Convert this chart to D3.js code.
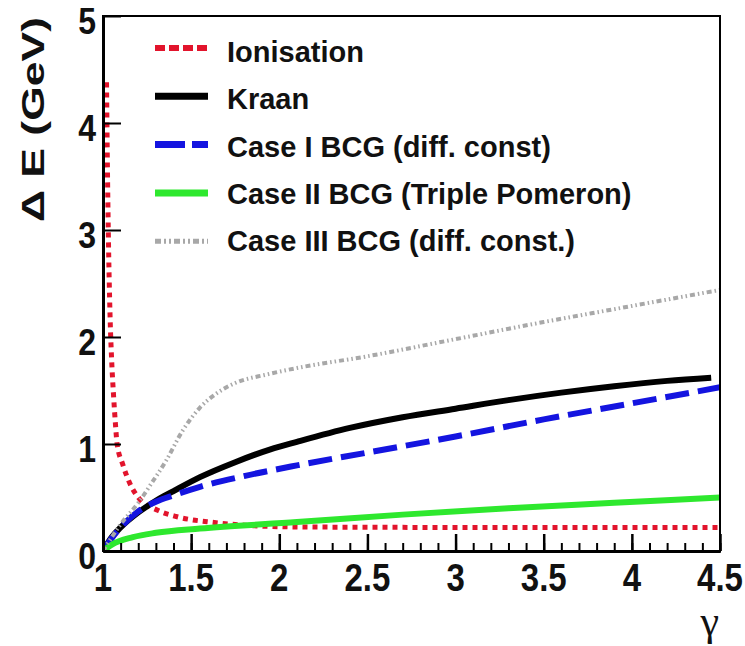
<!DOCTYPE html>
<html><head><meta charset="utf-8">
<script src="https://cdn.jsdelivr.net/npm/d3@7/dist/d3.min.js"></script>
<style>body{margin:0;background:#fff}svg{display:block}</style>
</head><body><svg id="c" width="745" height="646"></svg>
<script>
// ---- data ----
const xTicks = [1, 1.5, 2, 2.5, 3, 3.5, 4, 4.5];
const xTickLabels = ["1", "1.5", "2", "2.5", "3", "3.5", "4", "4.5"];
const yTicks = [0, 1, 2, 3, 4, 5];
const yTickLabels = ["0", "1", "2", "3", "4", "5"];

const ionGamma = [1.02, 1.025, 1.03, 1.04, 1.05, 1.06, 1.07, 1.08, 1.11, 1.15, 1.2, 1.31, 1.42, 1.61, 2.08, 2.5, 3.0, 3.5, 4.0, 4.5];
const ionE     = [4.38, 3.6, 3.0, 2.2, 1.75, 1.45, 1.2, 1.0, 0.82, 0.64, 0.5, 0.38, 0.32, 0.27, 0.225, 0.222, 0.22, 0.22, 0.22, 0.22];

const kraanGamma = [1.0, 1.05, 1.1, 1.2, 1.3, 1.4, 1.55, 1.75, 1.95, 2.1, 2.4, 2.7, 3.0, 3.3, 3.6, 3.9, 4.2, 4.45];
const kraanE     = [0.0, 0.13, 0.22, 0.36, 0.47, 0.56, 0.69, 0.83, 0.95, 1.02, 1.15, 1.25, 1.33, 1.41, 1.48, 1.54, 1.59, 1.62];

const case1Gamma = [1.0, 1.05, 1.1, 1.2, 1.3, 1.4, 1.55, 1.8, 2.1, 2.5, 3.0, 3.5, 4.0, 4.5];
const case1E     = [0.0, 0.12, 0.22, 0.37, 0.46, 0.52, 0.60, 0.70, 0.80, 0.92, 1.07, 1.23, 1.38, 1.53];

const case2Gamma = [1.0, 1.05, 1.17, 1.3, 1.55, 2.1, 2.7, 3.3, 3.9, 4.5];
const case2E     = [0.0, 0.06, 0.13, 0.17, 0.21, 0.27, 0.34, 0.40, 0.45, 0.50];

const case3Gamma = [1.0, 1.1, 1.2, 1.27, 1.36, 1.45, 1.55, 1.65, 1.75, 1.93, 2.1, 2.5, 3.0, 3.5, 4.0, 4.5];
const case3E     = [0.0, 0.25, 0.45, 0.62, 0.85, 1.12, 1.34, 1.48, 1.57, 1.65, 1.71, 1.82, 1.98, 2.14, 2.29, 2.44];

const seriesNames = ["Ionisation", "Kraan", "Case I BCG (diff. const)", "Case II BCG (Triple Pomeron)", "Case III BCG (diff. const.)"];
const seriesColors = ["#e2142c", "#000000", "#1414e0", "#2ee82e", "#a8a8a8"];

// ---- chart ----
const svg = d3.select("#c");
const x = d3.scaleLinear([1, 4.5], [103, 720]);
const y = d3.scaleLinear([0, 5], [551, 16]);
const font = "'Liberation Sans', Arial, Helvetica, sans-serif";

const series = [
  {g: ionGamma, e: ionE, color: seriesColors[0], w: 5, dash: "5,5", legDash: "10,4"},
  {g: kraanGamma, e: kraanE, color: seriesColors[1], w: 6, dash: null, legDash: null},
  {g: case1Gamma, e: case1E, color: seriesColors[2], w: 6, dash: "24,9", legDash: "30,7"},
  {g: case2Gamma, e: case2E, color: seriesColors[3], w: 6, dash: null, legDash: null},
  {g: case3Gamma, e: case3E, color: seriesColors[4], w: 4, dash: "5,3,1.5,3,1.5,3", legDash: "6,3,2,3,2,3"}
];

svg.append("defs").append("clipPath").attr("id", "clip")
  .append("rect").attr("x", 103).attr("y", 16).attr("width", 617).attr("height", 535);

const line = d3.line().x(d => x(d[0])).y(d => y(d[1])).curve(d3.curveMonotoneX);
const plot = svg.append("g").attr("clip-path", "url(#clip)");
series.forEach(s => {
  const pts = s.g.map((g, i) => [g, s.e[i]]);
  plot.append("path").datum(pts).attr("d", line)
    .attr("fill", "none").attr("stroke", s.color).attr("stroke-width", s.w)
    .attr("stroke-dasharray", s.dash);
});

// frame
svg.append("rect").attr("x", 103).attr("y", 16).attr("width", 617).attr("height", 535)
  .attr("fill", "none").attr("stroke", "#000").attr("stroke-width", 2);

// x axis ticks
const xMinor = d3.range(10, 46).map(v => v / 10);
const gx = svg.append("g").attr("transform", "translate(0,551)");
gx.call(d3.axisBottom(x).tickValues(xMinor).tickSizeInner(-8).tickSizeOuter(0).tickFormat(""));
gx.call(g => g.selectAll(".tick line").attr("stroke-width", 2));
const gx2 = svg.append("g").attr("transform", "translate(0,551)");
gx2.call(d3.axisBottom(x).tickValues(xTicks).tickSizeInner(-17).tickSizeOuter(0).tickFormat(""));
gx2.selectAll(".tick line").attr("stroke-width", 2.5);
svg.selectAll(".domain").attr("stroke-width", 3);

// y axis ticks
const gy = svg.append("g").attr("transform", "translate(103,0)");
gy.call(d3.axisLeft(y).tickValues(yTicks).tickSizeInner(-18).tickSizeOuter(0).tickFormat(""));
gy.selectAll(".tick line").attr("stroke-width", 2);
gy.select(".domain").attr("stroke-width", 3);

// tick labels
xTicks.forEach((v, i) => {
  svg.append("text").attr("transform", `translate(${x(v)},591) scale(1,1.18)`)
    .attr("text-anchor", "middle").attr("font-family", font).attr("font-weight", "bold")
    .attr("font-size", 33).attr("fill", "#111").text(xTickLabels[i]);
});
yTicks.forEach((v, i) => {
  svg.append("text").attr("transform", `translate(96,${y(v) + 18}) scale(1,1.15)`)
    .attr("text-anchor", "end").attr("font-family", font).attr("font-weight", "bold")
    .attr("font-size", 32).attr("fill", "#111").text(yTickLabels[i]);
});

// axis titles
svg.append("text").attr("transform", "translate(44,17) rotate(-90)")
  .attr("text-anchor", "end").attr("font-family", font).attr("font-weight", "bold")
  .attr("font-size", 31).attr("textLength", 205).attr("lengthAdjust", "spacingAndGlyphs")
  .attr("fill", "#111").text("\u0394 E (GeV)");
svg.append("text").attr("x", 719).attr("y", 635)
  .attr("text-anchor", "end").attr("font-family", "'Liberation Serif', 'Times New Roman', serif")
  .attr("font-size", 42).attr("fill", "#111").text("\u03b3");

// legend
series.forEach((s, i) => {
  const cy = 48 + 48.3 * i;
  svg.append("line").attr("x1", 155).attr("x2", 208).attr("y1", cy).attr("y2", cy)
    .attr("stroke", s.color).attr("stroke-width", s.w + 1).attr("stroke-dasharray", s.legDash);
  svg.append("text").attr("x", 227).attr("y", 62 + 47.3 * i)
    .attr("font-family", font).attr("font-weight", "bold").attr("font-size", 29)
    .attr("fill", "#111").text(seriesNames[i]);
});
</script></body></html>
